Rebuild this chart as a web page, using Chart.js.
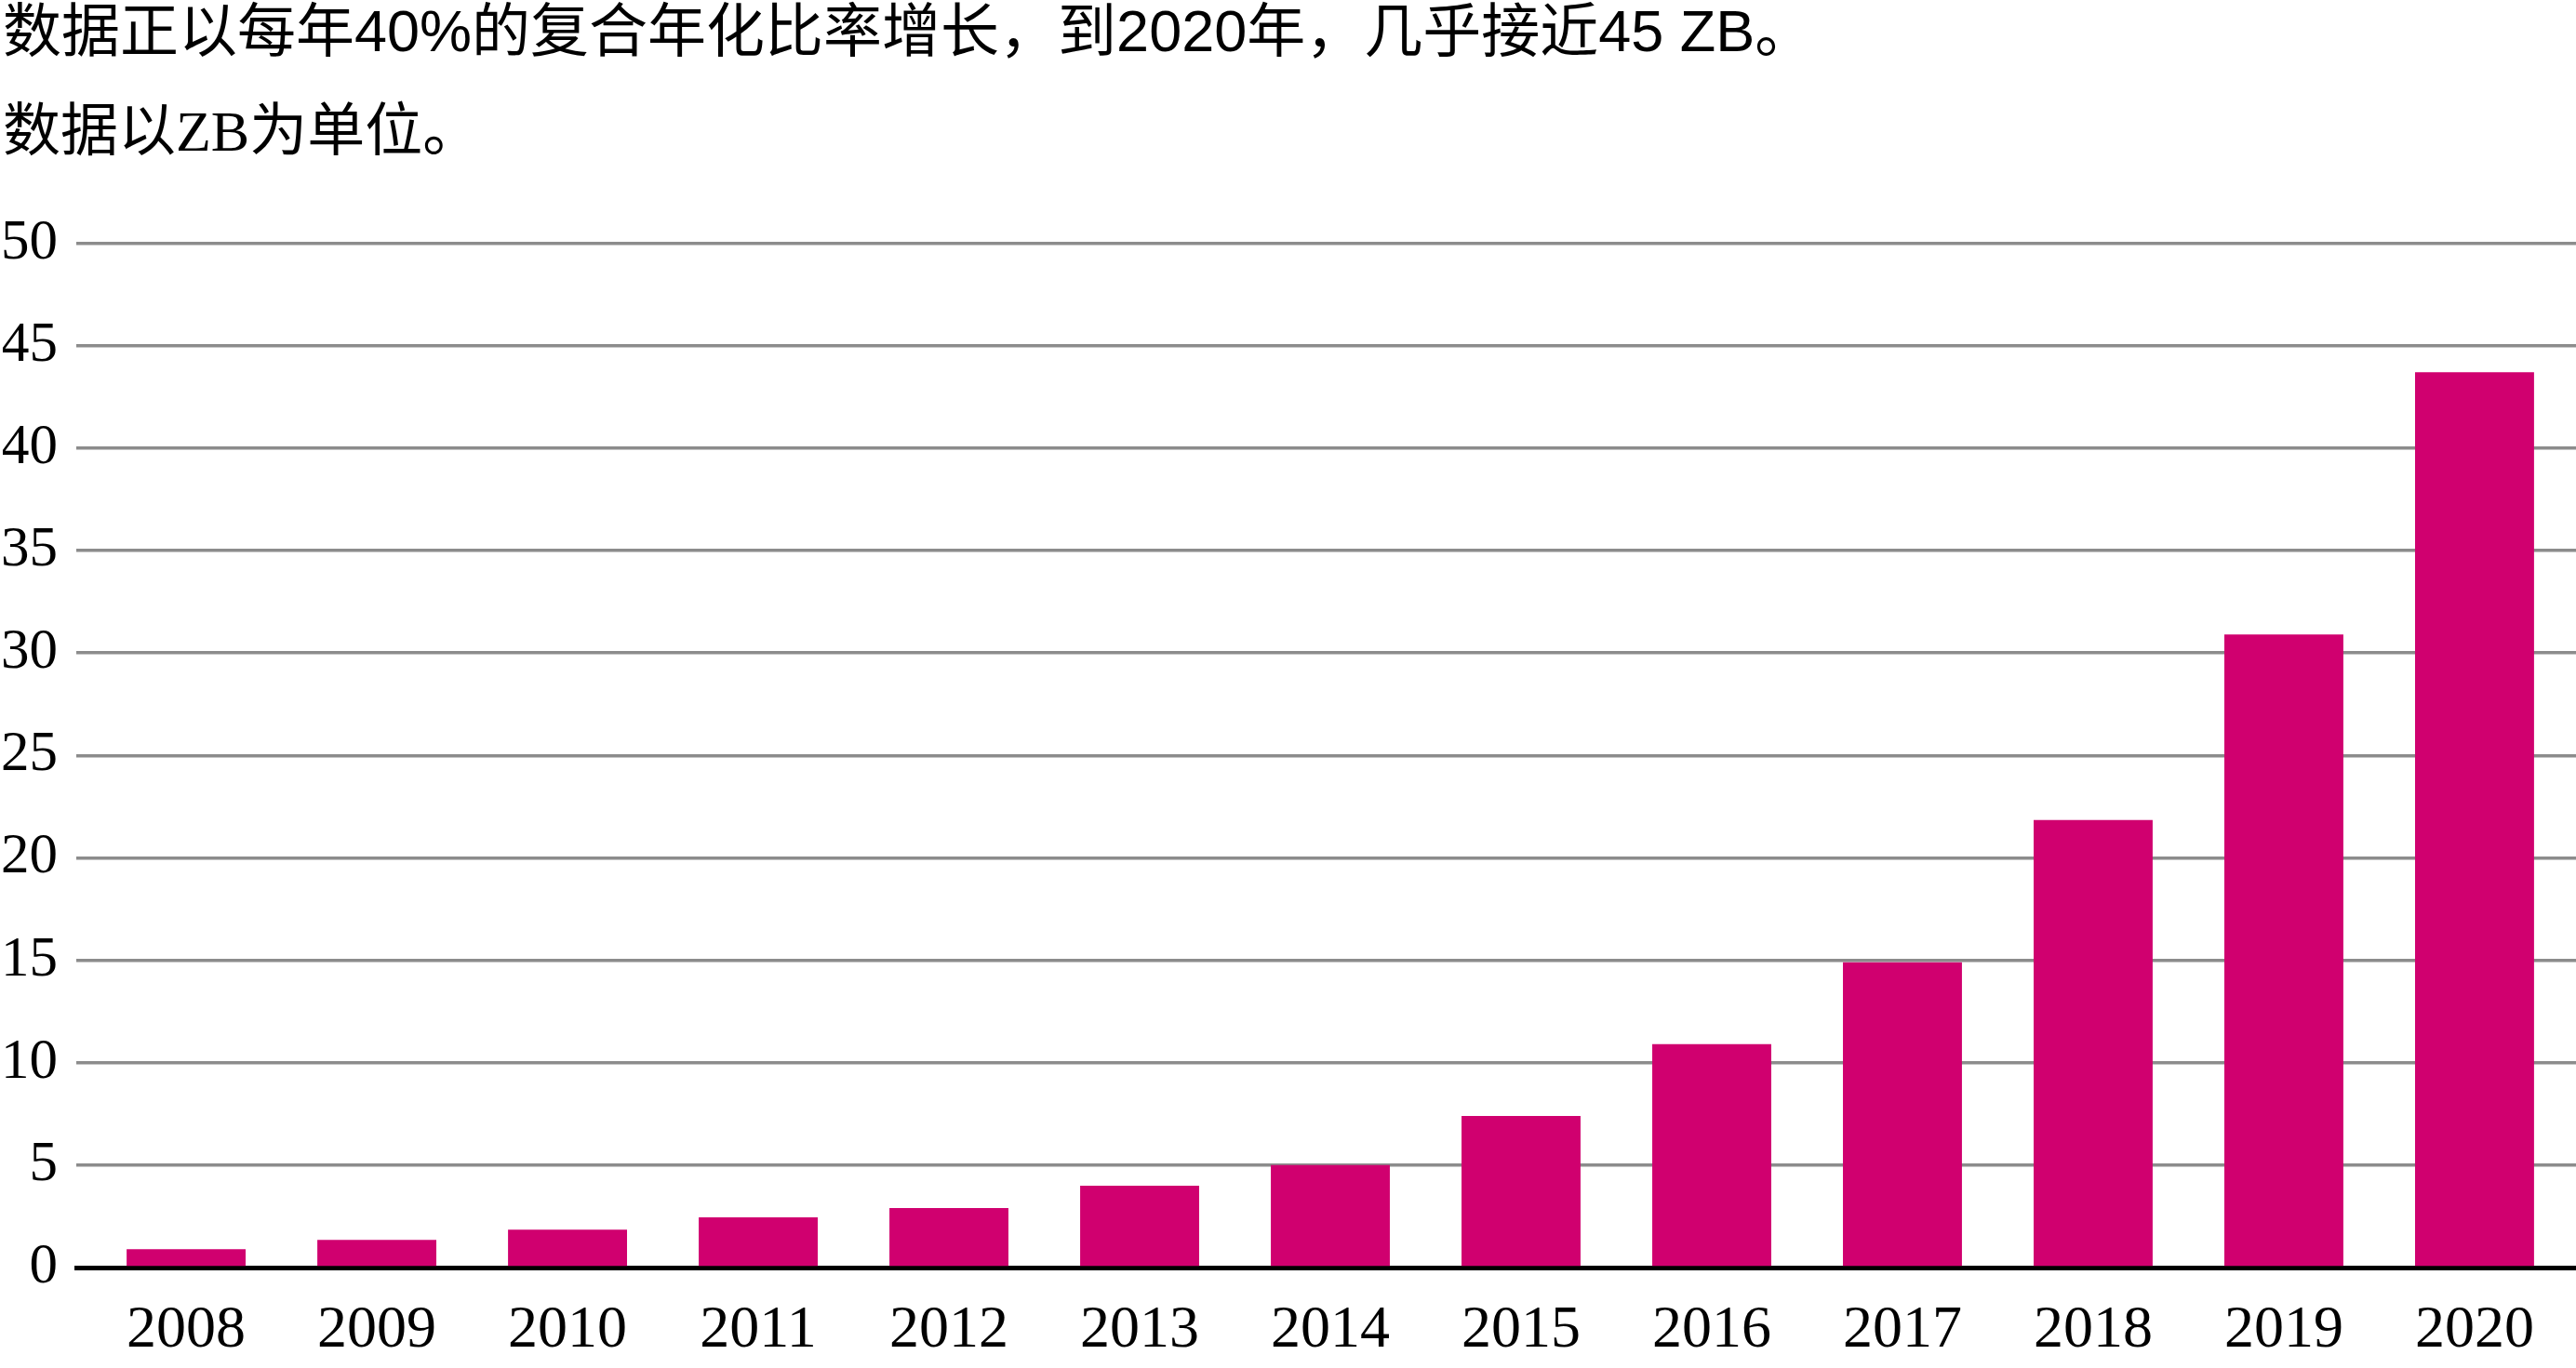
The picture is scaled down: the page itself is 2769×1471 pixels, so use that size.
<!DOCTYPE html>
<html>
<head>
<meta charset="utf-8">
<script src="https://cdn.jsdelivr.net/npm/chart.js@4/dist/chart.umd.min.js"></script>
<style>
  html, body { margin: 0; padding: 0; background: #fff; }
  #wrap { width: 2769px; height: 1471px; position: relative; }
</style>
</head>
<body>
<div id="wrap"><canvas id="zbChart"></canvas></div>
<script>
//chart data
const years = [2008, 2009, 2010, 2011, 2012, 2013, 2014, 2015, 2016, 2017, 2018, 2019, 2020];
const zettabytes = [0.9, 1.35, 1.85, 2.45, 2.9, 4.0, 5.0, 7.4, 10.9, 14.9, 21.85, 30.9, 43.7];
const yTicks = [0, 5, 10, 15, 20, 25, 30, 35, 40, 45, 50];

const titleText = "数据正以每年40%的复合年化比率增长，到2020年，几乎接近45 ZB。";
const subtitleText = "数据以ZB为单位。";

//bars sit on a linear year axis so the grid can run past the first and last bar
const points = years.map((y, i) => ({ x: y, y: zettabytes[i] }));

const ctx = document.getElementById("zbChart");

new Chart(ctx, {
  type: "bar",

  data: {
    datasets: [{
      data: points,
      backgroundColor: "#d0006f",
      borderWidth: 0,
      categoryPercentage: 1,
      barPercentage: 0.624
    }]
  },

  options: {
    responsive: true,
    maintainAspectRatio: false,
    animation: false,
    devicePixelRatio: 1,

    layout: {
      padding: { top: 0, left: 3, right: 0, bottom: 0 }
    },

    plugins: {
      legend: { display: false },
      tooltip: { enabled: false },
      title: {
        display: true,
        text: titleText,
        align: "start",
        color: "#000",
        font: { family: "'Liberation Sans', 'Noto Sans CJK SC', sans-serif", size: 63, weight: "normal", lineHeight: 1.1 },
        padding: { top: 3, bottom: 39 }
      },
      subtitle: {
        display: true,
        text: subtitleText,
        align: "start",
        color: "#000",
        font: { family: "'Liberation Serif', 'Noto Sans CJK SC', serif", size: 62, weight: "normal", lineHeight: 1.1 },
        padding: { top: 0, bottom: 82 }
      }
    },

    scales: {
      x: {
        type: "linear",
        offset: false,
        min: 2007.424,
        max: 2020.532,
        grid: { display: false, drawTicks: false },
        border: { display: true, color: "#000", width: 5 },
        afterFit: axis => { axis.height = 108; },
        ticks: {
          stepSize: 1,
          includeBounds: false,
          autoSkip: false,
          maxRotation: 0,
          padding: 30,
          color: "#000",
          font: { family: "'Liberation Serif', serif", size: 64 },
          callback: v => (Number.isInteger(v) && years.includes(v)) ? String(v) : ""
        }
      },
      y: {
        min: 0,
        max: 50,
        grid: { color: "#8c8c8c", lineWidth: 3.5, drawTicks: false },
        border: { display: false },
        afterFit: axis => { axis.width = 79; },
        afterBuildTicks: axis => {
          axis.ticks = yTicks.map(v => ({ value: v }));
        },
        ticks: {
          padding: 20,
          color: "#000",
          font: { family: "'Liberation Serif', serif", size: 61 }
        }
      }
    }
  }
});
</script>
</body>
</html>
